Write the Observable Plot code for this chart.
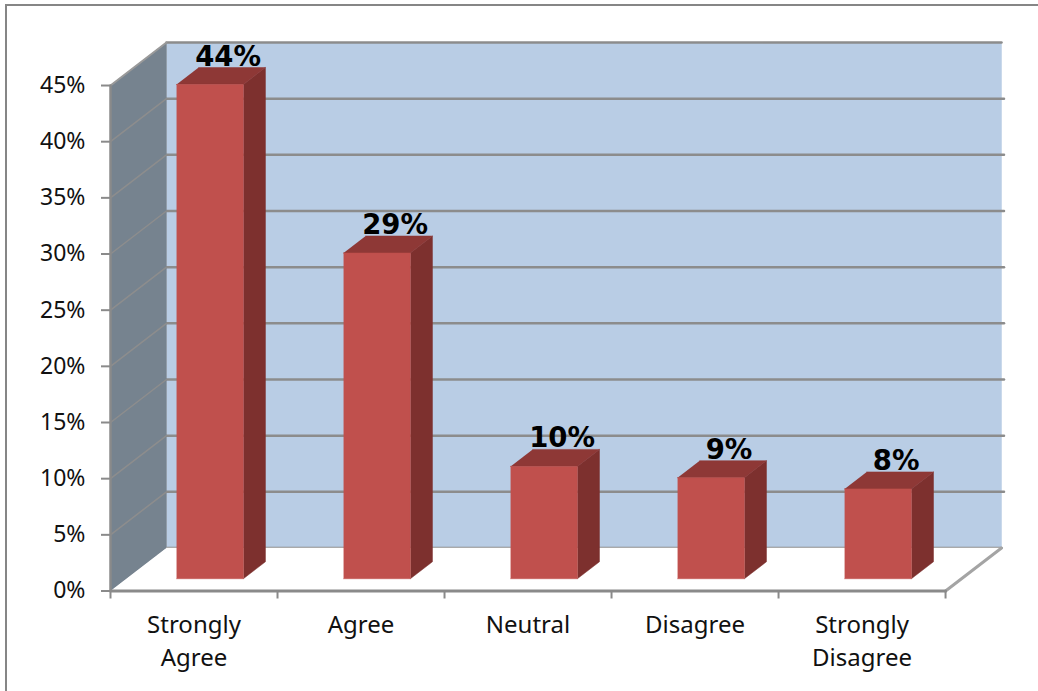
<!DOCTYPE html>
<html>
<head>
<meta charset="utf-8">
<script src="https://cdn.jsdelivr.net/npm/d3@7"></script>
<script src="https://cdn.jsdelivr.net/npm/@observablehq/plot@0.6"></script>
<style>
  html, body { margin: 0; padding: 0; background: #fff; overflow: hidden; }
  #chart { position: relative; width: 1038px; height: 691px; overflow: hidden; }
  #chart svg { position: absolute; left: 0; top: 0; }
  #border { position: absolute; left: 5px; top: 4px; width: 1100px; height: 760px; border: 2px solid #868686; }
</style>
</head>
<body>
<div id="chart"><div id="border"></div></div>
<script>
const categories = ["Strongly\nAgree", "Agree", "Neutral", "Disagree", "Strongly\nDisagree"];
const percents = [44, 29, 10, 9, 8];
const yTicks = [0, 5, 10, 15, 20, 25, 30, 35, 40, 45];
const gridValues = [5, 10, 15, 20, 25, 30, 35, 40];

const colors = {
  wall: "#b9cde5", sideWall: "#76838f", floor: "#ffffff",
  barFront: "#c0504d", barSide: "#7d302e", barTop: "#8e3836",
  grid: "#8c8c8c", axis: "#8a8a8a"
};
const font = "'Noto Sans', 'DejaVu Sans', sans-serif";

// Oblique projection: depth 0 is the front plane, depth 1 the back wall.
const shiftX = 0.335, shiftY = 3.83;
const project = (slot, value, depth) => ({x: slot + depth * shiftX, y: value + depth * shiftY});
const n = categories.length, maxY = 45;

const polygon = (id, fill, corners) => corners.map(([s, v, d]) => ({id, fill, ...project(s, v, d)}));
const face = (rows) => Plot.line(rows, {x: "x", y: "y", z: "id", fill: (d) => d.fill, stroke: (d) => d.fill, strokeWidth: 0.5, curve: "linear"});
const edge = (corners, stroke, strokeWidth) =>
  Plot.line(corners.map(([s, v, d]) => project(s, v, d)), {x: "x", y: "y", stroke, strokeWidth});

const barHalf = 0.2, barNear = 0.285, barFar = 0.68;
const barFaces = percents.flatMap((v, i) => {
  const l = i + 0.5 - barHalf, r = i + 0.5 + barHalf;
  return [
    ...polygon(`side${i}`, colors.barSide, [[r, 0, barNear], [r, 0, barFar], [r, v, barFar], [r, v, barNear]]),
    ...polygon(`top${i}`, colors.barTop, [[l, v, barNear], [r, v, barNear], [r, v, barFar], [l, v, barFar]]),
    ...polygon(`front${i}`, colors.barFront, [[l, 0, barNear], [r, 0, barNear], [r, v, barNear], [l, v, barNear]])
  ];
});

const plot = Plot.plot({
  width: 1038, height: 691,
  marginLeft: 110, marginRight: 37, marginTop: 42, marginBottom: 100.5,
  style: {background: "transparent", fontFamily: font, overflow: "visible"},
  x: {domain: [0, n + shiftX], axis: null},
  y: {domain: [0, maxY + shiftY], axis: null},
  marks: [
    // Walls and floor
    face(polygon("back", colors.wall, [[0, 0, 1], [n, 0, 1], [n, maxY, 1], [0, maxY, 1]])),
    ...gridValues.map((v) => edge([[0, v, 1], [n + 0.015, v, 1]], colors.grid, 2.5)),
    edge([[0, maxY, 1], [n, maxY, 1]], colors.grid, 2.5),
    edge([[0, 0, 1], [n, 0, 1]], colors.grid, 2.5),
    face(polygon("sideWall", colors.sideWall, [[0, 0, 0], [0, 0, 1], [0, maxY, 1], [0, maxY, 0]])),
    ...gridValues.map((v) => edge([[0, v, 0], [0, v, 1]], "#8d8d8d", 1.5)),
    edge([[0, maxY, 0], [0, maxY, 1]], "#9a9a9a", 2),
    face(polygon("floor", colors.floor, [[0, 0, 0], [n, 0, 0], [n, 0, 1], [0, 0, 1]])),
    edge([[n, 0, 0], [n, 0, 1]], "#a4a4a4", 3),
    edge([[0, 0, 0], [n, 0, 0]], colors.axis, 3),
    edge([[0, 0, 0], [0, maxY, 0]], colors.axis, 2.5),

    // Bars
    face(barFaces),

    // Axes
    Plot.axisY({ticks: yTicks, tickFormat: (d) => `${d}%`, tickSize: 9, tickPadding: 16, fontSize: 23,
      stroke: colors.axis, strokeWidth: 2, fill: "#111", label: null}),
    Plot.axisX({ticks: d3.range(n + 1), tickFormat: () => "", tickSize: 8, stroke: colors.axis, strokeWidth: 2, label: null}),
    Plot.text(categories, {x: (d, i) => i + 0.5, y: () => 0, text: (d) => d, dy: 18, lineAnchor: "top",
      lineHeight: 1.4, fontSize: 24, fill: "#111"}),

    // Value labels above each bar
    Plot.text(percents, {x: (d, i) => project(i + 0.5, d, barFar).x, y: (d) => d, text: (d) => `${d}%`,
      dx: -4, dy: -40, fontSize: 27.5, fontFamily: "'DejaVu Sans', sans-serif", fontWeight: "bold", fill: "#000"})
  ]
});
document.getElementById("chart").appendChild(plot);
</script>
</body>
</html>
